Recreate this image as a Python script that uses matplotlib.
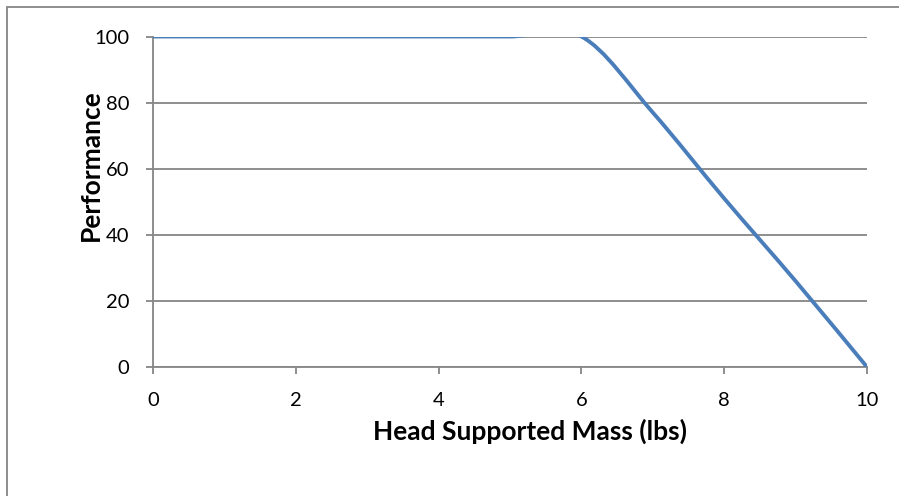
import matplotlib as mpl

mpl.use('Agg')
import matplotlib.pyplot as plt
from matplotlib.path import Path
from matplotlib.patches import PathPatch, Rectangle
import numpy as np

#### Data ####
mass = [0, 1, 2, 3, 4, 5, 6, 7, 8, 9, 10]
performance = [100, 100, 100, 100, 100, 100, 100, 77, 51, 26, 0]
x_ticks = [0, 2, 4, 6, 8, 10]
y_ticks = [0, 20, 40, 60, 80, 100]

LINE_COLOR = "#4A7EBB"
GRID_COLOR = "#868686"
FONT = "Lato"


def smooth_path(x, y):
    """
    Excel-like smoothed line: cubic bezier through every point
    """
    pts = np.column_stack([x, y]).astype(float)
    n = len(pts)
    verts = [pts[0]]
    codes = [Path.MOVETO]
    for i in range(n - 1):
        p0 = pts[max(i - 1, 0)]
        p1 = pts[i]
        p2 = pts[i + 1]
        p3 = pts[min(i + 2, n - 1)]
        c1 = p1 + (p2 - p0) / 6.0
        c2 = p2 - (p3 - p1) / 6.0
        verts.extend([c1, c2, p2])
        codes.extend([Path.CURVE4] * 3)
    return Path(verts, codes)


fig = plt.figure(figsize=(8.99, 4.96), dpi=100)
ax = fig.add_axes([153 / 899, 1 - 367 / 496, (867 - 153) / 899, (367 - 36.5) / 496])

# outer chart border (cut off at right and bottom)
fig.patches.append(Rectangle((7 / 899, -0.1), 1.2, (496 - 7) / 496 + 0.1,
                             transform=fig.transFigure, fill=False,
                             edgecolor=GRID_COLOR, linewidth=1.3))

ax.add_patch(PathPatch(smooth_path(mass, performance), facecolor="none",
                       edgecolor=LINE_COLOR, linewidth=2.8,
                       capstyle="round", zorder=3))

ax.set_xlim(0, 10)
ax.set_ylim(0, 100)
ax.set_xticks(x_ticks)
ax.set_yticks(y_ticks)
ax.yaxis.grid(True, color=GRID_COLOR, linewidth=1.3)
ax.set_axisbelow(True)

for side in ["top", "right"]:
    ax.spines[side].set_visible(False)
for side in ["left", "bottom"]:
    ax.spines[side].set_color(GRID_COLOR)
    ax.spines[side].set_linewidth(1.3)

ax.tick_params(axis="both", direction="out", length=5, width=1.3,
               color=GRID_COLOR, labelsize=14.5, labelcolor="black")
ax.tick_params(axis="y", pad=12)
ax.tick_params(axis="x", pad=13)
for lab in ax.get_xticklabels() + ax.get_yticklabels():
    lab.set_fontfamily(FONT)

ax.set_xlabel("Head Supported Mass (lbs)", fontsize=19, fontweight="bold",
              fontfamily=FONT)
ax.set_ylabel("Performance", fontsize=19, fontweight="bold",
              fontfamily=FONT)
ax.xaxis.set_label_coords(0.528, -0.155)
ax.yaxis.set_label_coords(-0.07, 0.611)

plt.savefig("out.png", dpi=100)
